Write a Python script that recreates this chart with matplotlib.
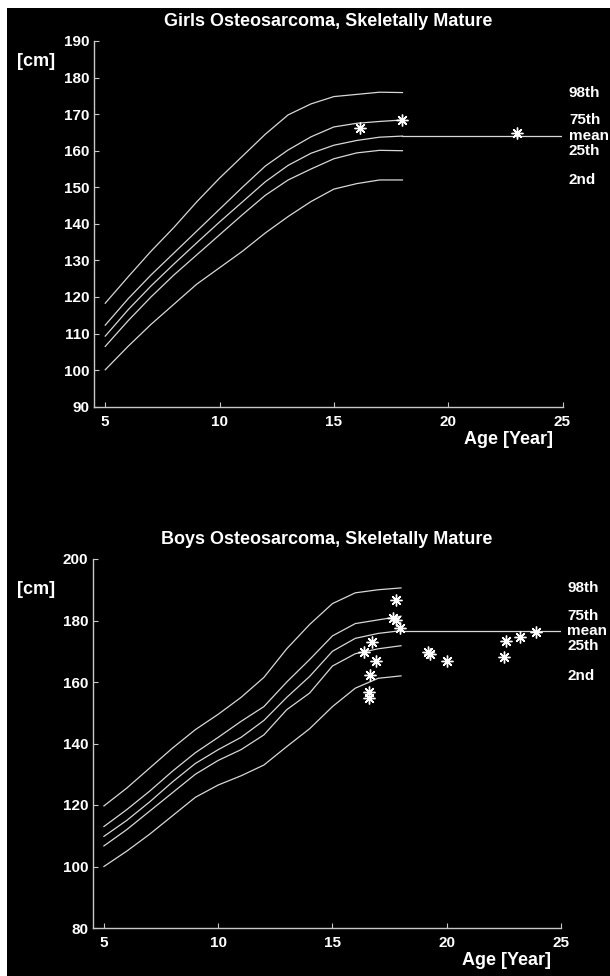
import matplotlib
matplotlib.use("Agg")
import matplotlib.pyplot as plt
from matplotlib.patches import Rectangle

# ages for the reference curves
ages = [5, 6, 7, 8, 9, 10, 11, 12, 13, 14, 15, 16, 17, 18]
adult_age = 25

# girls percentiles (cm)
girls_p98 = [118.3, 125.5, 132.5, 139.0, 146.0, 152.5, 158.5, 164.5, 169.8, 172.8, 174.8, 175.4, 176.0, 175.9]
girls_p75 = [112.3, 119.5, 126.0, 132.0, 138.0, 144.0, 150.0, 155.8, 160.2, 163.8, 166.5, 167.5, 168.0, 168.4]
girls_mean = [109.3, 116.5, 123.0, 129.0, 134.8, 140.5, 146.0, 151.5, 156.0, 159.3, 161.5, 162.8, 163.7, 164.0]
girls_p25 = [106.5, 113.5, 120.0, 126.0, 131.5, 137.0, 142.5, 147.8, 152.0, 155.0, 157.8, 159.4, 160.1, 160.0]
girls_p02 = [100.1, 106.5, 112.5, 118.0, 123.5, 128.0, 132.5, 137.5, 142.0, 146.1, 149.5, 151.0, 152.0, 152.0]

# boys percentiles (cm)
boys_p98 = [119.7, 125.5, 132.0, 138.5, 144.5, 149.5, 155.0, 161.5, 170.8, 178.7, 185.5, 189.0, 190.0, 190.6]
boys_p75 = [113.0, 118.5, 124.5, 131.0, 137.0, 142.0, 147.2, 152.0, 160.0, 167.3, 175.0, 179.0, 180.2, 181.4]
boys_mean = [109.8, 115.0, 121.0, 127.5, 133.5, 138.0, 142.0, 147.5, 155.0, 161.8, 170.0, 174.2, 175.8, 176.7]
boys_p25 = [106.7, 112.0, 118.0, 124.0, 130.0, 134.5, 138.0, 142.8, 151.0, 156.4, 165.2, 169.2, 170.8, 171.8]
boys_p02 = [100.0, 105.0, 110.5, 116.5, 122.5, 126.5, 129.5, 133.0, 139.0, 144.8, 152.0, 158.0, 161.2, 162.0]

# patients
girls_pt_age = [16.15, 17.97, 22.99]
girls_pt_h = [166.3, 168.4, 164.8]
boys_pt_age = [16.40, 16.60, 16.60, 16.66, 16.72, 16.89, 17.65, 17.80, 17.78, 17.94,
               19.20, 19.28, 20.01, 22.49, 22.61, 23.22, 23.92]
boys_pt_h = [169.7, 156.9, 154.9, 162.3, 172.9, 166.7, 180.8, 180.2, 186.8, 177.6,
             169.7, 169.0, 166.7, 168.0, 173.2, 174.6, 176.1]

pct_names = ['98th', '75th', 'mean', '25th', '2nd']

W, H = 610, 976
fig = plt.figure(figsize=(W / 100, H / 100), dpi=100, facecolor='white')
fig.patches.append(Rectangle((7 / W, 0), 1, 1 - 8 / H, transform=fig.transFigure,
                             facecolor='black', edgecolor='none', zorder=-10))

FONT = 'Liberation Sans'
LC = '#d8d8d8'


def panel(rect, title, curves, mean_end, pt_age, pt_h, ylim, yticks, cm_y, age_y):
    l, t, r, b = rect
    ax = fig.add_axes([l / W, 1 - b / H, (r - l) / W, (b - t) / H])
    ax.set_facecolor('black')
    for c in curves:
        ax.plot(ages, c, color=LC, lw=0.9)
    # adult mean line
    ax.plot([ages[-1], adult_age], [mean_end, mean_end], color=LC, lw=0.9)
    ax.plot(pt_age, pt_h, ls='none', marker=(8, 2, 0), ms=8.5, mew=1.0, color='white')
    ends = [c[-1] for c in curves]
    for name, y in zip(pct_names, ends):
        ax.text(25.28, y, name, color='white', fontsize=11, fontweight='bold',
                family=FONT, va='center', ha='left', clip_on=False)
    ax.set_xlim(4.5, 25)
    ax.set_ylim(*ylim)
    ax.set_xticks([5, 10, 15, 20, 25])
    ax.set_yticks(yticks)
    for s in ['top', 'right']:
        ax.spines[s].set_visible(False)
    for s in ['left', 'bottom']:
        ax.spines[s].set_color('#c8c8c8')
        ax.spines[s].set_linewidth(1.0)
    ax.tick_params(axis='both', direction='in', length=3.5, width=0.8, color='#c8c8c8',
                   labelcolor='white', labelsize=11)
    ax.tick_params(axis='x', pad=6)
    ax.tick_params(axis='y', pad=3)
    for lab in ax.get_xticklabels() + ax.get_yticklabels():
        lab.set_fontweight('bold')
        lab.set_family(FONT)
    ax.set_title(title, color='white', fontsize=13, fontweight='bold', family=FONT, pad=11)
    ax.text(0.979, age_y, 'Age [Year]', transform=ax.transAxes, color='white',
            fontsize=13, fontweight='bold', family=FONT, ha='right', va='center')
    fig.text(36 / W, 1 - cm_y / H, '[cm]', color='white', fontsize=13, fontweight='bold',
             family=FONT, ha='center', va='center')
    return ax


panel((93.8, 41, 562.5, 406.7), 'Girls Osteosarcoma, Skeletally Mature',
      [girls_p98, girls_p75, girls_mean, girls_p25, girls_p02], girls_mean[-1],
      girls_pt_age, girls_pt_h, (90, 190), list(range(90, 191, 10)), 62, -0.091)
panel((92.5, 559, 561, 928), 'Boys Osteosarcoma, Skeletally Mature',
      [boys_p98, boys_p75, boys_mean, boys_p25, boys_p02], boys_mean[-1],
      boys_pt_age, boys_pt_h, (80, 200), list(range(80, 201, 20)), 590, -0.089)

fig.savefig('out.png', dpi=100, facecolor=fig.get_facecolor())
